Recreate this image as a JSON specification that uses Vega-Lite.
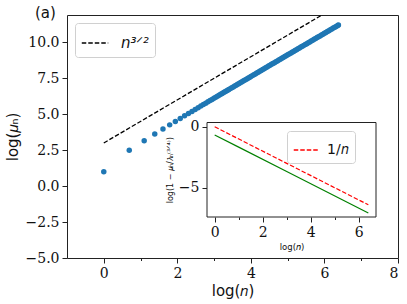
{
  "$schema": "https://vega.github.io/schema/vega-lite/v6.json",
  "autosize": {"type": "none"},
  "padding": {"left": 67, "top": 15, "right": 9, "bottom": 46},
  "background": "white",
  "width": 331,
  "height": 243,
  "config": {
    "view": {"stroke": "#222", "strokeWidth": 1},
    "axis": {
      "domain": false, "grid": false, "tickColor": "#222", "tickSize": 5, "labelPadding": 3, "labelOverlap": false,
      "labelFont": "DejaVu Serif", "labelFontSize": 14, "labelColor": "#111",
      "titleFont": "DejaVu Sans", "titleFontSize": 15, "titleFontWeight": "normal", "titleColor": "#111"
    },
    "legend": {
      "labelFont": "DejaVu Sans", "labelFontSize": 15, "labelColor": "#111",
      "fillColor": "white", "strokeColor": "#d0d0d0", "cornerRadius": 3, "padding": 6,
      "symbolType": "stroke", "symbolSize": 700, "symbolStrokeWidth": 1.3
    }
  },
  "title": {"text": "(a)", "anchor": "start", "frame": "group", "dx": -32, "dy": 15, "offset": -3, "baseline": "alphabetic", "font": "DejaVu Sans", "fontSize": 15, "fontWeight": "normal", "color": "#111"},
  "datasets": {
    "mu": [
      {"logn": 0, "logmu": 1.0},
      {"logn": 0.6931, "logmu": 2.495},
      {"logn": 1.0986, "logmu": 3.161},
      {"logn": 1.3863, "logmu": 3.622},
      {"logn": 1.6094, "logmu": 3.974},
      {"logn": 1.7918, "logmu": 4.259},
      {"logn": 1.9459, "logmu": 4.499},
      {"logn": 2.0794, "logmu": 4.705},
      {"logn": 2.1972, "logmu": 4.887},
      {"logn": 2.3026, "logmu": 5.049},
      {"logn": 2.3979, "logmu": 5.195},
      {"logn": 2.4849, "logmu": 5.328},
      {"logn": 2.5649, "logmu": 5.451},
      {"logn": 2.6391, "logmu": 5.564},
      {"logn": 2.7081, "logmu": 5.669},
      {"logn": 2.7726, "logmu": 5.767},
      {"logn": 2.8332, "logmu": 5.860},
      {"logn": 2.8904, "logmu": 5.946},
      {"logn": 2.9444, "logmu": 6.028},
      {"logn": 2.9957, "logmu": 6.106},
      {"logn": 3.0445, "logmu": 6.180},
      {"logn": 3.0910, "logmu": 6.251},
      {"logn": 3.1355, "logmu": 6.318},
      {"logn": 3.1781, "logmu": 6.383},
      {"logn": 3.2189, "logmu": 6.444},
      {"logn": 3.2581, "logmu": 6.504},
      {"logn": 3.2958, "logmu": 6.561},
      {"logn": 3.3322, "logmu": 6.616},
      {"logn": 3.3673, "logmu": 6.669},
      {"logn": 3.4012, "logmu": 6.720},
      {"logn": 3.44, "logmu": 6.78},
      {"logn": 3.48, "logmu": 6.84},
      {"logn": 3.52, "logmu": 6.90},
      {"logn": 3.56, "logmu": 6.96},
      {"logn": 3.60, "logmu": 7.02},
      {"logn": 3.64, "logmu": 7.08},
      {"logn": 3.68, "logmu": 7.14},
      {"logn": 3.72, "logmu": 7.20},
      {"logn": 3.76, "logmu": 7.26},
      {"logn": 3.80, "logmu": 7.32},
      {"logn": 3.84, "logmu": 7.38},
      {"logn": 3.88, "logmu": 7.44},
      {"logn": 3.92, "logmu": 7.50},
      {"logn": 3.96, "logmu": 7.56},
      {"logn": 4.00, "logmu": 7.62},
      {"logn": 4.04, "logmu": 7.684},
      {"logn": 4.08, "logmu": 7.744},
      {"logn": 4.12, "logmu": 7.804},
      {"logn": 4.16, "logmu": 7.865},
      {"logn": 4.20, "logmu": 7.925},
      {"logn": 4.24, "logmu": 7.985},
      {"logn": 4.28, "logmu": 8.045},
      {"logn": 4.32, "logmu": 8.106},
      {"logn": 4.36, "logmu": 8.166},
      {"logn": 4.40, "logmu": 8.226},
      {"logn": 4.44, "logmu": 8.286},
      {"logn": 4.48, "logmu": 8.346},
      {"logn": 4.52, "logmu": 8.406},
      {"logn": 4.56, "logmu": 8.467},
      {"logn": 4.60, "logmu": 8.527},
      {"logn": 4.64, "logmu": 8.587},
      {"logn": 4.68, "logmu": 8.647},
      {"logn": 4.72, "logmu": 8.707},
      {"logn": 4.76, "logmu": 8.767},
      {"logn": 4.80, "logmu": 8.828},
      {"logn": 4.84, "logmu": 8.888},
      {"logn": 4.88, "logmu": 8.948},
      {"logn": 4.92, "logmu": 9.008},
      {"logn": 4.96, "logmu": 9.068},
      {"logn": 5.00, "logmu": 9.128},
      {"logn": 5.04, "logmu": 9.188},
      {"logn": 5.08, "logmu": 9.248},
      {"logn": 5.12, "logmu": 9.308},
      {"logn": 5.16, "logmu": 9.368},
      {"logn": 5.20, "logmu": 9.428},
      {"logn": 5.24, "logmu": 9.488},
      {"logn": 5.28, "logmu": 9.548},
      {"logn": 5.32, "logmu": 9.608},
      {"logn": 5.36, "logmu": 9.668},
      {"logn": 5.40, "logmu": 9.728},
      {"logn": 5.44, "logmu": 9.788},
      {"logn": 5.48, "logmu": 9.848},
      {"logn": 5.52, "logmu": 9.908},
      {"logn": 5.56, "logmu": 9.968},
      {"logn": 5.60, "logmu": 10.028},
      {"logn": 5.64, "logmu": 10.088},
      {"logn": 5.68, "logmu": 10.148},
      {"logn": 5.72, "logmu": 10.208},
      {"logn": 5.76, "logmu": 10.268},
      {"logn": 5.80, "logmu": 10.328},
      {"logn": 5.84, "logmu": 10.388},
      {"logn": 5.88, "logmu": 10.448},
      {"logn": 5.92, "logmu": 10.508},
      {"logn": 5.96, "logmu": 10.568},
      {"logn": 6.00, "logmu": 10.628},
      {"logn": 6.04, "logmu": 10.688},
      {"logn": 6.08, "logmu": 10.748},
      {"logn": 6.12, "logmu": 10.808},
      {"logn": 6.16, "logmu": 10.868},
      {"logn": 6.20, "logmu": 10.928},
      {"logn": 6.24, "logmu": 10.988},
      {"logn": 6.28, "logmu": 11.048},
      {"logn": 6.32, "logmu": 11.108},
      {"logn": 6.36, "logmu": 11.168},
      {"logn": 6.38, "logmu": 11.198}
    ],
    "ref": [
      {"logn": 0, "y": 3.0, "s": "n³ᐟ²"},
      {"logn": 6.4, "y": 12.6, "s": "n³ᐟ²"}
    ],
    "inset": [
      {"logn": 0, "y": 0, "s": "1/𝑛"},
      {"logn": 6.4, "y": -6.4, "s": "1/𝑛"}
    ],
    "green": [
      {"logn": 0, "y": -0.68},
      {"logn": 1.0, "y": -1.67},
      {"logn": 3.0, "y": -3.67},
      {"logn": 6.4, "y": -7.07}
    ],
    "box": [
      {"x1": -0.32, "x2": 6.72, "y1": 0.35, "y2": -7.4}
    ]
  },
  "layer": [
    {
      "layer": [
        {
          "data": {"name": "mu"},
          "mark": {"type": "point", "filled": true, "size": 30, "opacity": 1, "color": "#1f77b4"},
          "encoding": {
            "x": {"field": "logn", "type": "quantitative", "scale": {"domain": [-1, 8], "nice": false, "zero": false},
                  "axis": {"title": "log(𝑛)", "orient": "bottom", "values": [0,1,2,3,4,5,6,7,8], "labelExpr": "datum.value % 2 != 0 ? '' : datum.label",
                           "tickSize": {"condition": {"test": "datum.value % 2 != 0", "value": 2.5}, "value": 5}, "titlePadding": 3}},
            "y": {"field": "logmu", "type": "quantitative", "scale": {"domain": [-5, 11.9], "nice": false, "zero": false},
                  "axis": {"title": "log(𝜇ₙ)", "orient": "left", "values": [-5,-2.5,0,2.5,5,7.5,10], "format": ".1f", "titlePadding": 5}}
          }
        },
        {
          "data": {"name": "ref"},
          "mark": {"type": "line", "strokeDash": [4.5, 2], "strokeWidth": 1.3, "clip": true},
          "encoding": {
            "x": {"field": "logn", "type": "quantitative"},
            "y": {"field": "y", "type": "quantitative"},
            "color": {"field": "s", "type": "nominal", "scale": {"range": ["black"]},
                      "legend": {"title": null, "orient": "top-left", "offset": 8, "symbolDash": [4.5, 2], "labelFontStyle": "italic", "labelOffset": 12}}
          }
        }
      ]
    },
    {
      "layer": [
        {
          "data": {"name": "box"},
          "mark": {"type": "rect", "fill": "white", "stroke": "#222", "strokeWidth": 1},
          "encoding": {
            "x": {"field": "x1", "type": "quantitative", "scale": {"domain": [-6.152, 7.636], "nice": false, "zero": false},
                  "axis": {"title": "log(𝑛)", "orient": "bottom", "offset": -41, "titleFontSize": 8.5, "titlePadding": 3, "titleX": 224.5,
                           "values": [0,1,2,3,4,5,6], "labelExpr": "datum.value % 2 != 0 ? '' : datum.label",
                           "tickSize": {"condition": {"test": "datum.value % 2 != 0", "value": 2.5}, "value": 5}}},
            "x2": {"field": "x2"},
            "y": {"field": "y1", "type": "quantitative", "scale": {"domain": [-10.762, 9.166], "nice": false, "zero": false},
                  "axis": {"title": "log(1 − 𝜇ₙ/𝜆ₙ⁽³ᐟ⁴⁾)", "orient": "left", "offset": -140, "titleFontSize": 8, "titlePadding": 4, "titleY": 154.75, "values": [0, -5], "format": "d"}},
            "y2": {"field": "y2"}
          }
        },
        {
          "data": {"name": "green"},
          "mark": {"type": "line", "color": "#008000", "strokeWidth": 1.2},
          "encoding": {
            "x": {"field": "logn", "type": "quantitative"},
            "y": {"field": "y", "type": "quantitative"}
          }
        },
        {
          "data": {"name": "inset"},
          "mark": {"type": "line", "strokeDash": [4.5, 2], "strokeWidth": 1.2},
          "encoding": {
            "x": {"field": "logn", "type": "quantitative"},
            "y": {"field": "y", "type": "quantitative"},
            "color": {"field": "s", "type": "nominal", "scale": {"range": ["red"]},
                      "legend": {"title": null, "orient": "none", "legendX": 220, "legendY": 116, "symbolDash": [4.5, 2], "symbolSize": 600, "labelOffset": 8, "labelFontSize": 14}}
          }
        }
      ]
    }
  ],
  "resolve": {
    "scale": {"x": "independent", "y": "independent", "color": "independent"},
    "axis": {"x": "independent", "y": "independent"},
    "legend": {"color": "independent"}
  }
}
